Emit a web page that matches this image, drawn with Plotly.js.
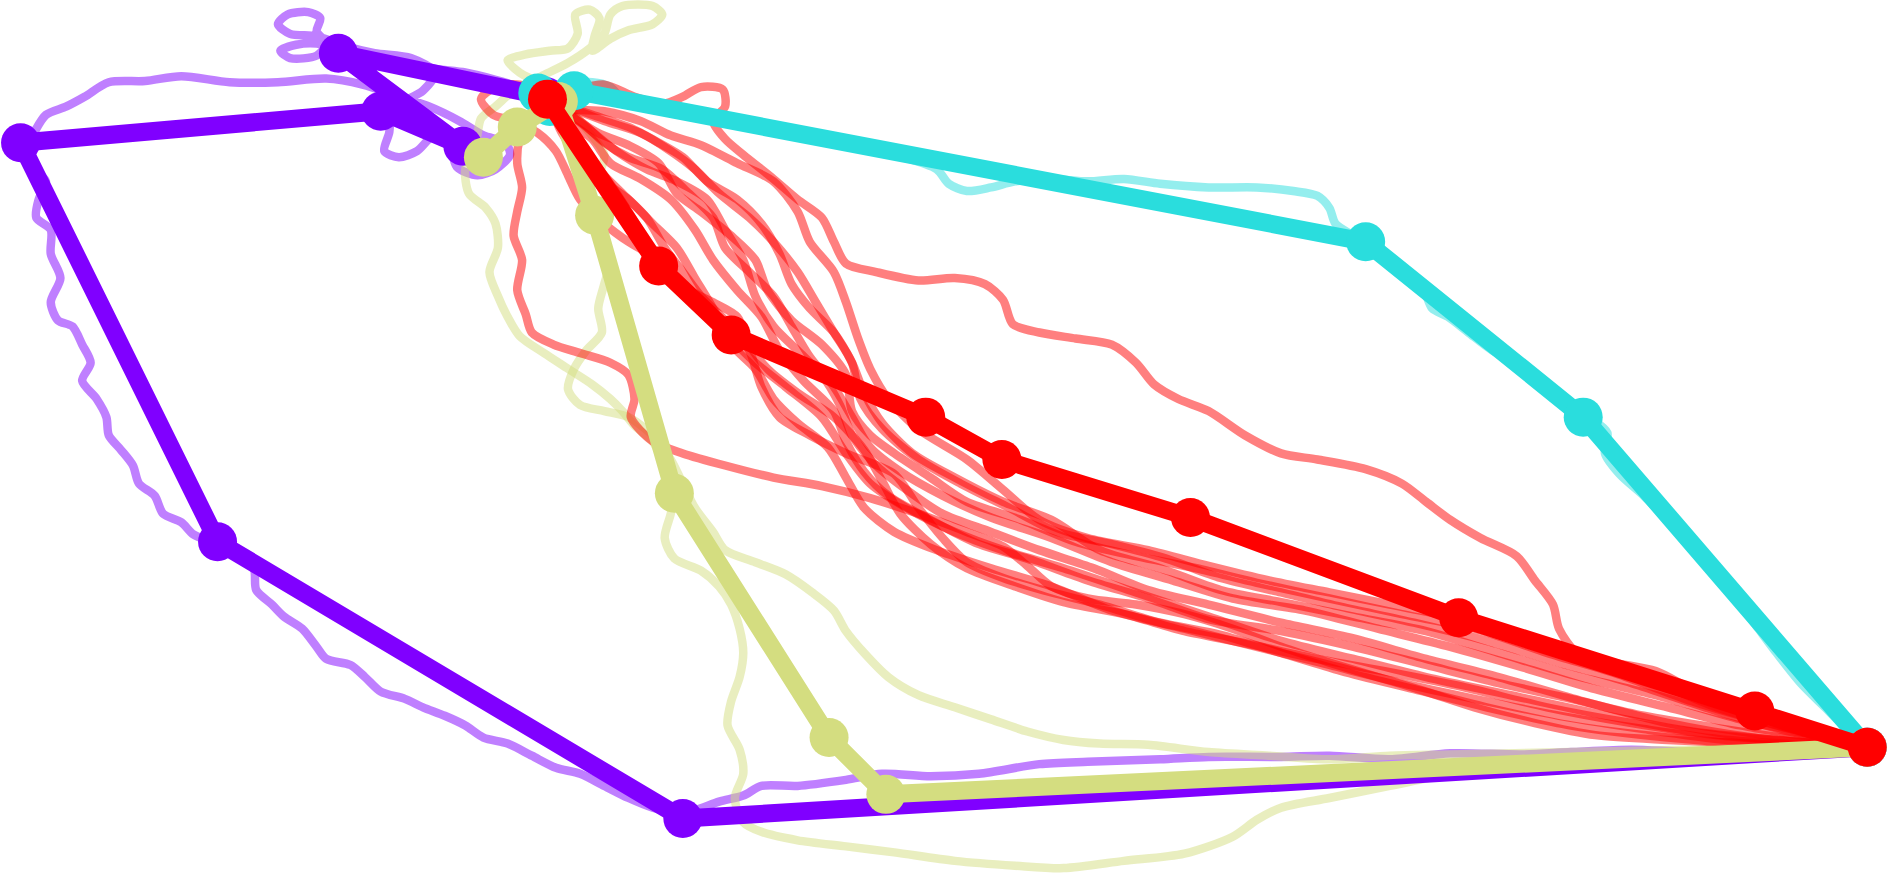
<!DOCTYPE html>
<html>
<head>
<meta charset="utf-8">
<script src="https://cdn.plot.ly/plotly-3.0.1.min.js"></script>
<style>
  html, body { margin: 0; padding: 0; background: #fff; }
  #chart { width: 1895px; height: 879px; }
</style>
</head>
<body>
<div id="chart"></div>
<script>
// --- Colours (rainbow map, 4 groups) ---
const COLORS = {
    purple: '#8000ff',
    cyan: '#2adddd',
    yellow: '#d4dd80',
    red: '#ff0000'
};
const FADE = {
    purple: 'rgba(128,0,255,0.5)',
    cyan: 'rgba(42,221,221,0.5)',
    yellow: 'rgba(212,221,128,0.5)',
    red: 'rgba(255,0,0,0.5)'
};

// --- Main paths (with markers) ---
const purpleX = [452, 280, 383, 315, 17, 180, 565, 1545];
const purpleY = [80, 44, 121, 92, 118, 448, 677, 618];

const cyanX = [445, 455, 475, 1130, 1310, 1545];
const cyanY = [77, 88, 75, 200, 345, 618];

const yellowX = [400, 428, 462, 492, 558, 686, 733, 1545];
const yellowY = [130, 105, 84, 178, 408, 610, 657, 618];

const redX = [453, 545, 605, 766, 829, 985, 1207, 1452, 1545];
const redY = [82, 220, 277, 345, 380, 428, 511, 588, 618];

// --- Faded walks ---
const purpleWalk = [[452,80],[430,72],[410,66],[385,60],[360,57],[335,52],[310,47],[290,45],[275,40],[262,36],[245,37],[232,42],[240,48],[262,46],[270,36],[262,26],[265,15],[255,10],[238,12],[230,20],[240,28],[262,30],[285,38],[310,44],[340,48],[360,60],[350,75],[325,90],[322,110],[318,125],[330,130],[345,125],[355,115],[365,108],[372,118],[378,138],[395,145],[410,140],[422,128],[418,118],[400,112],[380,100],[355,88],[330,80],[300,70],[270,65],[230,68],[190,68],[150,63],[120,67],[90,68],[70,80],[55,88],[38,95],[28,110],[20,125],[28,140],[38,150],[32,165],[30,180],[42,190],[42,210],[50,230],[42,250],[48,265],[60,270],[68,285],[75,300],[68,315],[80,330],[88,345],[90,360],[100,372],[110,385],[115,400],[128,410],[135,425],[150,432],[160,442],[175,448],[195,455],[210,470],[212,488],[225,500],[235,510],[250,520],[262,535],[270,545],[290,550],[302,560],[315,572],[335,578],[350,585],[368,592],[385,600],[400,610],[420,615],[440,625],[460,635],[480,640],[500,650],[520,660],[540,668],[560,672],[575,670],[595,663],[615,658],[630,650],[660,650],[700,645],[730,640],[770,642],[810,640],[860,632],[900,630],[960,628],[1000,626],[1060,626],[1100,625],[1150,628],[1200,623],[1260,624],[1300,622],[1350,620],[1400,622],[1450,620],[1500,618],[1545,618]];

const cyanWalk = [[455,80],[470,70],[490,68],[505,72],[515,82],[535,84],[555,88],[580,92],[620,100],[680,112],[740,128],[775,140],[785,152],[800,158],[820,155],[840,150],[870,148],[900,150],[930,148],[960,152],[1000,155],[1040,155],[1070,158],[1090,162],[1100,172],[1105,185],[1120,195],[1135,205],[1160,225],[1178,240],[1185,255],[1198,262],[1215,275],[1235,290],[1255,300],[1275,315],[1295,333],[1315,345],[1330,358],[1328,375],[1340,392],[1360,410],[1380,430],[1400,450],[1420,475],[1440,500],[1455,520],[1470,540],[1490,565],[1510,585],[1525,600],[1545,618]];

const yellowWalkA = [[460,85],[448,70],[430,60],[420,50],[435,45],[455,42],[470,40],[478,28],[476,12],[488,8],[496,15],[492,30],[490,42],[505,32],[520,25],[540,20],[548,12],[540,5],[515,5],[505,12],[500,28],[488,40],[470,52],[450,62],[425,75],[410,88],[398,98],[395,112],[392,125],[385,140],[388,160],[402,172],[410,185],[412,205],[405,225],[412,245],[420,262],[430,278],[450,292],[470,305],[490,318],[505,330],[515,340],[525,352],[540,365],[548,380],[560,400],[555,425],[550,445],[558,462],[580,472],[595,485],[605,500],[612,520],[615,540],[612,560],[605,580],[602,600],[612,620],[615,640],[608,660],[615,680],[630,688],[660,695],[700,700],[740,705],[790,712],[840,716],[880,718],[930,712],[980,706],[1020,692],[1040,678],[1060,668],[1100,660],[1150,650],[1200,640],[1260,632],[1320,628],[1400,625],[1480,620],[1545,618]];

const yellowWalkB = [[462,84],[475,95],[488,110],[500,128],[495,145],[485,160],[490,175],[500,195],[505,215],[500,235],[495,255],[498,275],[485,290],[475,305],[470,322],[480,335],[500,340],[520,345],[540,360],[555,380],[565,400],[575,420],[590,440],[600,455],[625,465],[650,475],[672,490],[690,505],[700,522],[715,540],[735,560],[760,575],[790,585],[820,595],[850,605],[880,612],[910,615],[950,616],[1000,622],[1050,625],[1100,628],[1150,625],[1200,624],[1300,622],[1400,620],[1545,618]];

const redWalkHigh = [[455,82],[475,75],[500,70],[525,80],[548,86],[565,80],[580,72],[598,74],[600,88],[590,100],[600,115],[615,128],[640,148],[660,165],[680,180],[690,200],[700,218],[725,225],[760,232],[790,230],[815,235],[830,248],[838,268],[860,275],[890,280],[920,285],[940,300],[955,318],[975,330],[1000,340],[1030,360],[1060,375],[1090,380],[1130,388],[1160,400],[1180,415],[1200,430],[1225,445],[1255,460],[1270,480],[1285,500],[1290,520],[1305,540],[1335,548],[1370,555],[1400,570],[1430,580],[1480,600],[1545,618]];
const redWalkLow = [[450,88],[438,100],[430,115],[428,135],[432,155],[428,175],[425,195],[432,215],[428,240],[435,260],[440,275],[458,285],[480,292],[505,300],[520,310],[525,330],[522,345],[540,365],[565,375],[600,385],[640,395],[680,402],[720,412],[760,425],[800,440],[830,452],[850,468],[870,485],[900,495],[940,500],[980,508],[1020,520],[1060,535],[1100,548],[1140,560],[1180,572],[1220,585],[1270,598],[1320,608],[1380,612],[1450,615],[1545,618]];
const redWalkLoop = [[453,82],[430,70],[410,72],[398,82],[408,95],[425,100],[445,110],[460,125],[470,145],[480,165],[500,185],[520,200],[545,215],[565,235],[585,255],[605,280],[625,300],[650,320],[680,345],[700,375],[720,400],[750,420],[790,440],[830,455],[880,470],[940,490],[1000,510],[1060,530],[1120,545],[1180,560],[1250,575],[1320,590],[1400,605],[1470,612],[1545,618]];
const redWalk1 = [[453,82],[480,100],[500,118],[520,130],[548,140],[570,160],[590,180],[600,205],[620,225],[640,245],[655,270],[670,295],[690,320],[705,345],[720,370],[745,390],[780,410],[820,428],[870,445],[920,465],[970,480],[1020,495],[1080,505],[1140,520],[1200,535],[1260,552],[1320,570],[1380,585],[1440,600],[1500,610],[1545,618]];
const redWalk2 = [[453,82],[470,100],[490,115],[505,135],[530,148],[555,165],[575,190],[590,215],[610,240],[630,262],[645,290],[665,315],[690,340],[700,365],[715,390],[735,410],[770,430],[810,450],[850,462],[900,480],[950,495],[1000,512],[1060,522],[1120,535],[1180,550],[1240,565],[1300,578],[1360,592],[1420,602],[1490,612],[1545,618]];
const redWalk3 = [[453,82],[490,95],[520,105],[545,118],[565,130],[585,150],[610,165],[630,185],[645,210],[655,235],[670,255],[690,275],[705,300],[715,325],[730,350],[755,375],[790,395],[830,415],[870,430],[910,455],[960,470],[1010,488],[1060,498],[1120,510],[1180,522],[1240,540],[1300,558],[1370,575],[1440,595],[1500,608],[1545,618]];
const redWalk4 = [[453,82],[465,110],[480,130],[500,150],[520,165],[540,185],[560,205],[575,230],[590,255],[605,285],[625,305],[640,330],[660,350],[685,370],[700,395],[715,420],[740,440],[775,455],[820,470],[870,485],[920,505],[980,520],[1040,535],[1100,550],[1160,565],[1220,578],[1290,592],[1360,603],[1430,612],[1545,618]];
const redWalk5 = [[453,82],[485,105],[510,125],[535,140],[560,150],[585,165],[600,190],[615,215],[625,245],[640,270],[660,290],[680,310],[695,335],[705,360],[725,385],[750,405],[780,425],[820,440],[860,455],[905,470],[950,488],[1000,500],[1060,515],[1120,528],[1180,545],[1240,560],[1310,580],[1380,598],[1450,610],[1545,618]];
const redWalk6 = [[453,82],[500,100],[530,110],[555,125],[575,140],[595,160],[620,180],[640,200],[660,225],[675,250],[690,275],[705,300],[712,330],[730,355],[760,380],[795,400],[835,420],[875,440],[920,450],[965,462],[1010,478],[1060,490],[1110,502],[1170,515],[1230,530],[1290,548],[1350,565],[1420,588],[1480,605],[1545,618]];
const redWalk7 = [[453,82],[475,115],[495,140],[515,160],[535,180],[550,205],[565,225],[580,245],[600,265],[620,290],[630,320],[645,345],[670,360],[700,375],[740,392],[760,420],[780,445],[800,465],[830,478],[870,490],[910,500],[960,515],[1010,525],[1060,540],[1110,555],[1170,570],[1230,585],[1300,600],[1380,610],[1460,616],[1545,618]];
const redWalk8 = [[453,82],[495,110],[520,120],[545,135],[560,160],[580,175],[605,195],[625,215],[635,240],[655,265],[680,285],[700,310],[705,340],[720,360],[740,375],[770,395],[800,415],[845,430],[890,448],[940,460],[990,470],[1040,482],[1100,495],[1160,508],[1220,520],[1280,540],[1340,558],[1400,580],[1470,600],[1545,618]];
const redWalk9 = [[453,82],[470,90],[500,92],[530,100],[555,112],[580,120],[610,135],[640,150],[660,175],[670,200],[690,225],[700,250],[710,280],[720,305],[735,330],[760,355],[800,380],[830,405],[860,430],[900,445],[950,455],[1000,468],[1050,480],[1100,490],[1150,500],[1200,510],[1250,522],[1300,540],[1360,560],[1420,585],[1490,605],[1545,618]];
const redWalk10 = [[453,82],[480,120],[500,145],[520,175],[535,200],[550,225],[570,240],[590,250],[610,262],[620,285],[635,305],[660,325],[690,345],[715,372],[730,398],[745,425],[770,450],[800,470],[840,485],[880,498],[930,508],[980,522],[1030,532],[1090,545],[1150,556],[1210,568],[1280,585],[1350,598],[1420,608],[1545,618]];

const walks = [
    [purpleWalk, FADE.purple],
    [cyanWalk, FADE.cyan],
    [yellowWalkA, FADE.yellow],
    [yellowWalkB, FADE.yellow],
    [redWalkHigh, FADE.red], [redWalkLow, FADE.red], [redWalkLoop, FADE.red],
    [redWalk1, FADE.red], [redWalk2, FADE.red], [redWalk3, FADE.red], [redWalk4, FADE.red], [redWalk5, FADE.red],
    [redWalk6, FADE.red], [redWalk7, FADE.red], [redWalk8, FADE.red], [redWalk9, FADE.red], [redWalk10, FADE.red]
];

const traces = [];
walks.forEach(([pts, col]) => {
    traces.push({
        x: pts.map(p => p[0]), y: pts.map(p => p[1]),
        type: 'scatter', mode: 'lines', hoverinfo: 'skip', cliponaxis: false,
        line: { color: col, width: 8.5, shape: 'spline', smoothing: 0.8 }
    });
});

// main paths drawn on top
[[purpleX, purpleY, COLORS.purple], [cyanX, cyanY, COLORS.cyan],
 [yellowX, yellowY, COLORS.yellow], [redX, redY, COLORS.red]].forEach(([xs, ys, col]) => {
    traces.push({
        x: xs, y: ys, type: 'scatter', mode: 'lines+markers', cliponaxis: false,
        line: { color: col, width: 18 },
        marker: { color: col, size: 39 }
    });
});

Plotly.newPlot('chart', traces, {
    width: 1895, height: 879,
    margin: { l: 0, r: 0, t: 0, b: 0, pad: 0 },
    showlegend: false,
    paper_bgcolor: '#fff', plot_bgcolor: '#fff',
    xaxis: { range: [0, 1568], visible: false, fixedrange: true },
    yaxis: { range: [727, 0], visible: false, fixedrange: true }
}, { displayModeBar: false, staticPlot: true });
</script>
</body>
</html>
